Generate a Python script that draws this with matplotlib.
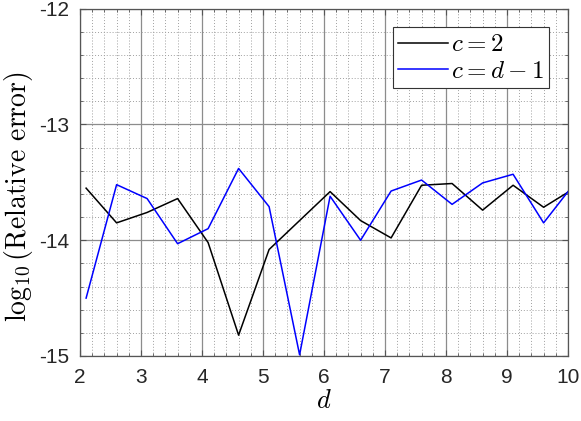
import numpy as np
import matplotlib.pyplot as plt
from matplotlib.ticker import MultipleLocator

# d values and log10 relative errors
d = [2.1, 2.6, 3.1, 3.6, 4.1, 4.6, 5.1, 5.6, 6.1, 6.6, 7.1, 7.6, 8.1, 8.6, 9.1, 9.6, 10.0]
err_c2 = [-13.55, -13.85, -13.76, -13.64, -14.02, -14.82, -14.08, -13.83, -13.58,
          -13.83, -13.98, -13.525, -13.51, -13.74, -13.525, -13.715, -13.585]
err_cd = [-14.50, -13.52, -13.64, -14.03, -13.90, -13.38, -13.71, -14.99, -13.62,
          -14.00, -13.575, -13.48, -13.69, -13.505, -13.43, -13.85, -13.58]
xticks = [2, 3, 4, 5, 6, 7, 8, 9, 10]
yticks = [-15, -14, -13, -12]
ytick_labels = ['-15', '-14', '-13', '-12']

plt.rcParams['mathtext.fontset'] = 'cm'
plt.rcParams['font.family'] = ['Liberation Sans', 'DejaVu Sans']

fig = plt.figure(figsize=(5.81, 4.21), dpi=100)
ax = fig.add_axes([0.1377, 0.1544, 0.8399, 0.8249])

ax.plot(d, err_c2, color='black', linewidth=1.1, label='$c = 2$')
ax.plot(d, err_cd, color='#0000ff', linewidth=1.1, label='$c = d - 1$')

ax.set_xlim(2, 10)
ax.set_ylim(-15, -12)
ax.set_xticks(xticks)
ax.set_yticks(yticks)
ax.set_yticklabels(ytick_labels)
ax.xaxis.set_minor_locator(MultipleLocator(0.2))
ax.yaxis.set_minor_locator(MultipleLocator(0.2))

ax.grid(which='major', color='#8c8c8c', linestyle='-', linewidth=0.9)
ax.grid(which='minor', color='#a0a0a0', linestyle=(0, (1, 2)), linewidth=0.7)
ax.set_axisbelow(True)

for s in ax.spines.values():
    s.set_color('#555555')
    s.set_linewidth(0.9)
ax.tick_params(which='both', direction='in', color='#555555', top=True, right=True)
ax.tick_params(which='major', length=4, labelsize=15, labelcolor='#262626')
ax.tick_params(axis='y', which='major', pad=8)
ax.tick_params(axis='x', which='major', pad=9)
ax.tick_params(which='minor', length=2)

ax.set_xlabel('$d$', fontsize=19, labelpad=1)
ax.set_ylabel(r'$\log_{10}$(Relative error)', fontsize=20, fontfamily='cmr10')
ax.yaxis.set_label_coords(-0.093, 0.46)

leg = ax.legend(loc='upper right', fontsize=18, fancybox=False, framealpha=1,
                edgecolor='#333333', handlelength=2.0, handletextpad=0.15,
                borderpad=0.2, labelspacing=0.1, borderaxespad=0.75)
leg.get_frame().set_linewidth(0.8)

fig.savefig('out.png', dpi=100)
